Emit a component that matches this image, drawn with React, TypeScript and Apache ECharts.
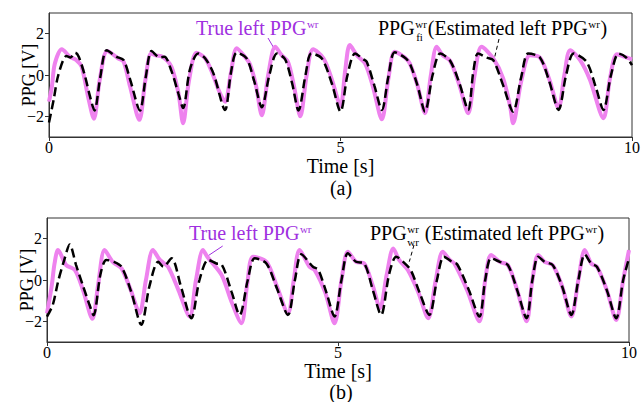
import React, { useEffect, useRef } from "react";
import * as echarts from "echarts";

const xTicks = [0, 5, 10];
const yTicks = [-2, 0, 2];

// (a) true left PPG (violet) and estimate (black dashed)  [time s, value V]
const trueA: [number, number][] = [
  [0, -1.29], [0.05, -0.55], [0.1, 0.55], [0.22, 1.24], [0.36, 0.88], [0.47, 0.72], [0.56, 0.4], [0.67, -1.05], [0.77, -2.12],
  [0.87, -0.24], [1.0, 1.16], [1.19, 0.8], [1.28, 0.64], [1.39, -0.56], [1.55, -2.17],
  [1.65, -0.3], [1.75, 1.04], [1.83, 0.95], [1.95, 0.88], [2.1, 0.4], [2.22, -0.88], [2.3, -2.33],
  [2.4, -0.3], [2.53, 1.08], [2.68, 0.8], [2.8, 0.1], [2.92, -0.8], [3.02, -1.3],
  [3.12, 0.1], [3.22, 1.29], [3.36, 0.88], [3.45, 0.5], [3.55, -0.5], [3.65, -1.95],
  [3.76, 0.0], [3.88, 1.37], [3.99, 0.96], [4.1, 0.63], [4.2, -0.5], [4.31, -2.0],
  [4.42, 0.0], [4.53, 1.24], [4.71, 0.8], [4.85, -0.2], [5.0, -1.5],
  [5.08, 0.2], [5.16, 1.45], [5.28, 0.96], [5.42, 0.56], [5.55, -0.5], [5.71, -2.14],
  [5.82, -0.2], [5.93, 1.12], [6.1, 0.85], [6.19, 0.55], [6.32, -0.5], [6.45, -1.85],
  [6.55, 0.0], [6.65, 1.37], [6.75, 0.96], [6.88, 0.69], [7.04, -0.5], [7.19, -1.85],
  [7.3, 0.0], [7.42, 1.37], [7.62, 0.8], [7.79, -0.16], [7.91, -1.53], [7.96, -2.33],
  [8.1, -0.3], [8.25, 0.96], [8.42, 0.85], [8.58, -0.2], [8.74, -1.6],
  [8.84, 0.0], [8.94, 1.2], [9.11, 0.72], [9.28, -0.24], [9.51, -2.09],
  [9.62, -0.2], [9.74, 1.01], [9.85, 0.9], [10, 0.76],
];
const estA: [number, number][] = [
  [0, -2.3], [0.08, -1.2], [0.16, 0.0], [0.3, 0.92], [0.37, 0.85], [0.45, 1.08], [0.51, 0.88], [0.62, -0.08], [0.7, -1.0], [0.78, -1.72],
  [0.88, -0.1], [0.99, 1.2], [1.16, 0.88], [1.28, 0.72], [1.4, -0.3], [1.56, -1.72],
  [1.66, -0.1], [1.76, 1.16], [1.9, 0.85], [1.98, 0.88], [2.1, 0.2], [2.22, -0.9], [2.3, -1.6],
  [2.42, 0.3], [2.56, 1.04], [2.68, 0.8], [2.82, 0.08], [3.02, -1.69],
  [3.12, 0.1], [3.22, 1.08], [3.39, 0.8], [3.52, -0.3], [3.65, -1.56],
  [3.78, 0.0], [3.91, 1.04], [4.05, 0.76], [4.17, -0.4], [4.28, -1.72],
  [4.4, 0.0], [4.5, 1.04], [4.68, 0.8], [4.85, -0.4], [5.0, -1.77],
  [5.12, 0.0], [5.25, 1.04], [5.39, 0.76], [5.45, 0.64], [5.58, -0.5], [5.71, -1.69],
  [5.82, -0.1], [5.93, 1.1], [6.1, 0.85], [6.19, 0.55], [6.32, -0.5], [6.45, -1.77],
  [6.58, 0.0], [6.71, 1.04], [6.88, 0.69], [7.04, -0.4], [7.19, -1.69],
  [7.28, 0.2], [7.36, 1.04], [7.5, 0.85], [7.62, 0.72], [7.79, -0.5], [7.96, -1.77],
  [8.1, -0.1], [8.22, 1.04], [8.42, 0.85], [8.58, -0.3], [8.74, -1.69],
  [8.87, 0.0], [9.0, 1.04], [9.22, 0.64], [9.38, -0.6], [9.51, -1.69],
  [9.64, 0.0], [9.77, 1.04], [9.9, 0.85], [10, 0.48],
];

// (b)
const trueB: [number, number][] = [
  [0, -1.61], [0.08, -0.3], [0.13, 0.8], [0.19, 1.45], [0.33, 0.72], [0.48, 0.48], [0.62, -0.5], [0.78, -1.88],
  [0.88, -0.2], [0.99, 1.45], [1.13, 0.88], [1.28, 0.56], [1.44, -0.5], [1.59, -1.61],
  [1.7, 0.0], [1.82, 1.45], [1.94, 0.97], [2.08, 0.64], [2.26, -0.5], [2.45, -1.77],
  [2.56, 0.0], [2.68, 1.45], [2.76, 1.1], [3.0, 0.24], [3.17, -1.05], [3.34, -2.09],
  [3.44, -0.2], [3.54, 1.13], [3.77, 0.88], [3.95, -0.3], [4.14, -1.61],
  [4.24, 0.0], [4.34, 1.45], [4.51, 0.64], [4.6, 0.48], [4.78, -0.6], [4.94, -2.09],
  [5.06, 0.0], [5.17, 1.37], [5.31, 0.88], [5.45, 0.8], [5.6, -0.3], [5.72, -1.37],
  [5.84, 0.3], [5.95, 1.53], [6.05, 0.97], [6.2, 0.48], [6.38, -0.6], [6.55, -1.85],
  [6.68, 0.0], [6.8, 1.37], [6.92, 0.97], [7.0, 0.8], [7.22, -0.5], [7.43, -2.0],
  [7.53, 0.0], [7.63, 1.21], [7.78, 0.88], [7.92, 0.72], [8.08, -0.5], [8.24, -2.0],
  [8.34, 0.0], [8.44, 1.21], [8.55, 0.88], [8.69, 0.72], [8.85, -0.3], [9.01, -1.77],
  [9.13, 0.0], [9.24, 1.45], [9.35, 0.8], [9.45, 0.64], [9.62, -0.5], [9.78, -1.93],
  [9.9, 0.0], [10, 1.45],
];
const estB: [number, number][] = [
  [0, -1.77], [0.1, -1.2], [0.19, -0.08], [0.3, 1.0], [0.39, 1.72], [0.5, 0.72], [0.62, -0.3], [0.73, -1.2], [0.8, -1.7],
  [0.92, 0.3], [1.02, 0.97], [1.15, 0.88], [1.28, 0.64], [1.45, -0.6], [1.62, -2.17],
  [1.76, -0.3], [1.91, 0.88], [2.0, 0.64], [2.14, 1.05], [2.3, -0.3], [2.48, -1.85],
  [2.62, 0.0], [2.77, 0.97], [2.91, 0.8], [3.0, 0.75], [3.17, -0.56], [3.31, -1.69],
  [3.45, 0.0], [3.57, 1.05], [3.77, 0.8], [3.95, -0.4], [4.14, -1.69],
  [4.26, 0.0], [4.37, 1.24], [4.57, 0.64], [4.66, 0.5], [4.8, -0.6], [4.94, -1.77],
  [5.06, 0.0], [5.17, 1.3], [5.31, 0.88], [5.45, 0.8], [5.6, -0.5], [5.74, -1.69],
  [5.88, 0.3], [6.0, 1.13], [6.12, 0.88], [6.25, 0.48], [6.4, -0.6], [6.57, -1.69],
  [6.7, 0.0], [6.82, 1.13], [6.96, 0.88], [7.05, 0.75], [7.25, -0.5], [7.43, -1.77],
  [7.53, 0.0], [7.63, 1.05], [7.78, 0.88], [7.92, 0.72], [8.08, -0.5], [8.24, -1.85],
  [8.34, 0.0], [8.44, 1.13], [8.55, 0.88], [8.69, 0.72], [8.85, -0.3], [9.01, -1.69],
  [9.13, 0.0], [9.24, 1.24], [9.35, 0.8], [9.45, 0.64], [9.62, -0.5], [9.78, -1.85],
  [9.9, 0.0], [10, 1.05],
];

const FONT = '"Liberation Serif", "Times New Roman", serif';
const PINK = "#EE82EE";
const PURPLE = "#A030E0";
const AXIS = "#333333";

function measure(text: string, size: number): number {
  const ctx = document.createElement("canvas").getContext("2d");
  if (!ctx) return text.length * size * 0.5;
  ctx.font = `${size}px ${FONT}`;
  return ctx.measureText(text).width;
}

function txt(text: string, x: number, y: number, size: number, fill: string, align = "left") {
  return {
    type: "text",
    x,
    y,
    silent: true,
    style: {
      text,
      font: `${size}px ${FONT}`,
      fill,
      align,
      verticalAlign: "middle",
      textAlign: align,
      textVerticalAlign: "middle",
    },
  };
}

function seg(x1: number, y1: number, x2: number, y2: number, stroke: string, dash?: number[]) {
  return {
    type: "line",
    silent: true,
    shape: { x1, y1, x2, y2 },
    style: { stroke, lineWidth: 1, lineDash: dash },
  };
}

function buildGraphics() {
  const els: any[] = [];
  const big = 20;
  const small = 11;
  const sup = -4.5;
  const sub = 8.5;
  // (a) annotations
  {
    const x0 = 196, y = 28;
    els.push(txt("True left PPG", x0, y, big, PURPLE));
    els.push(txt("wr", x0 + measure("True left PPG", big) + 0.5, y + sup, small, PURPLE));
    els.push(seg(268, 38, 275, 50, PURPLE));
    const b0 = 378;
    const w1 = measure("PPG", big);
    els.push(txt("PPG", b0, y, big, "#000"));
    els.push(txt("wr", b0 + w1 + 0.5, y + sup, small, "#000"));
    els.push(txt("fi", b0 + w1 + 1.5, y + sub, small, "#000"));
    const x2 = b0 + w1 + measure("wr", small) + 1.5;
    const s2 = "(Estimated left PPG";
    els.push(txt(s2, x2, y, big, "#000"));
    const x3 = x2 + measure(s2, big) + 0.5;
    els.push(txt("wr", x3, y + sup, small, "#000"));
    els.push(txt(")", x3 + measure("wr", small) + 0.5, y, big, "#000"));
    els.push(seg(499, 39, 494, 60, "#000", [4, 3]));
  }
  // (b) annotations
  {
    const x0 = 189, y = 233;
    els.push(txt("True left PPG", x0, y, big, PURPLE));
    els.push(txt("wr", x0 + measure("True left PPG", big) + 0.5, y + sup, small, PURPLE));
    els.push(seg(222.7, 246, 206.7, 256.7, PURPLE));
    const b0 = 370;
    const w1 = measure("PPG", big);
    els.push(txt("PPG", b0, y, big, "#000"));
    els.push(txt("wr", b0 + w1 + 0.5, y + sup, small, "#000"));
    els.push(txt("wr", b0 + w1 + 0.5, y + sub, small, "#000"));
    const x2 = b0 + w1 + measure("wr", small) + 1.5;
    const s2 = " (Estimated left PPG";
    els.push(txt(s2, x2, y, big, "#000"));
    const x3 = x2 + measure(s2, big) + 0.5;
    els.push(txt("wr", x3, y + sup, small, "#000"));
    els.push(txt(")", x3 + measure("wr", small) + 0.5, y, big, "#000"));
    els.push(seg(414, 245, 409.3, 261.7, "#000", [4, 3]));
  }
  els.push(txt("(a)", 341, 188, big, "#000", "center"));
  els.push(txt("(b)", 341, 392, big, "#000", "center"));
  return els;
}

function xAxisOf(gridIndex: number) {
  return {
    type: "value",
    gridIndex,
    min: 0,
    max: 10,
    interval: 5,
    name: "Time [s]",
    nameLocation: "middle",
    nameGap: 21,
    nameMoveOverlap: false,
    nameTextStyle: { fontFamily: FONT, fontSize: 20, lineHeight: 15, color: "#000" },
    axisLine: { show: true, onZero: false, lineStyle: { color: AXIS, width: 1 } },
    axisTick: { show: true, length: 4, inside: false, lineStyle: { color: AXIS }, customValues: xTicks },
    axisLabel: { margin: 4, fontFamily: FONT, fontSize: 16, lineHeight: 12, color: "#000", customValues: xTicks },
    splitLine: { show: false },
  };
}

function yAxisOf(gridIndex: number) {
  return {
    type: "value",
    gridIndex,
    min: -3,
    max: 3,
    interval: 1,
    name: "PPG [V]",
    nameLocation: "middle",
    nameGap: 11,
    nameMoveOverlap: false,
    nameRotate: 90,
    nameTextStyle: { fontFamily: FONT, fontSize: 18, color: "#000" },
    axisLine: { show: true, onZero: false, lineStyle: { color: AXIS, width: 1 } },
    axisTick: { show: true, length: 4, inside: false, lineStyle: { color: AXIS }, customValues: yTicks },
    axisLabel: {
      margin: 5,
      fontFamily: FONT,
      fontSize: 16,
      color: "#000",
      customValues: yTicks,
      formatter: (v: number) => (v < 0 ? "\u2212" + Math.abs(v) : String(v)),
    },
    splitLine: { show: false },
  };
}

function lineSeries(data: [number, number][], idx: number, dashed: boolean) {
  return {
    type: "line",
    xAxisIndex: idx,
    yAxisIndex: idx,
    data,
    showSymbol: false,
    symbol: "none",
    smooth: 0.3,
    z: dashed ? 3 : 2,
    lineStyle: dashed
      ? { color: "#000", width: 2.5, type: [9, 4.5] }
      : { color: PINK, width: 4 },
  };
}

export default function App() {
  const ref = useRef<HTMLDivElement>(null);
  useEffect(() => {
    if (!ref.current) return;
    const chart = echarts.init(ref.current, undefined, { renderer: "svg" });
    const gridBase = {
      show: true,
      borderColor: AXIS,
      borderWidth: 1,
      backgroundColor: "transparent",
      containLabel: false,
      outerBoundsMode: "none",
    };
    chart.setOption({
      animation: false,
      backgroundColor: "#ffffff",
      grid: [
        { ...gridBase, left: 49, top: 13, width: 583, height: 124 },
        { ...gridBase, left: 47, top: 218, width: 582, height: 124 },
      ],
      xAxis: [xAxisOf(0), xAxisOf(1)],
      yAxis: [yAxisOf(0), yAxisOf(1)],
      series: [
        lineSeries(trueA, 0, false),
        lineSeries(estA, 0, true),
        lineSeries(trueB, 1, false),
        lineSeries(estB, 1, true),
      ],
      graphic: buildGraphics(),
    });
    return () => chart.dispose();
  }, []);
  return (
    <div
      ref={ref}
      style={{ position: "absolute", left: 0, top: 0, width: 643, height: 402 }}
    />
  );
}
